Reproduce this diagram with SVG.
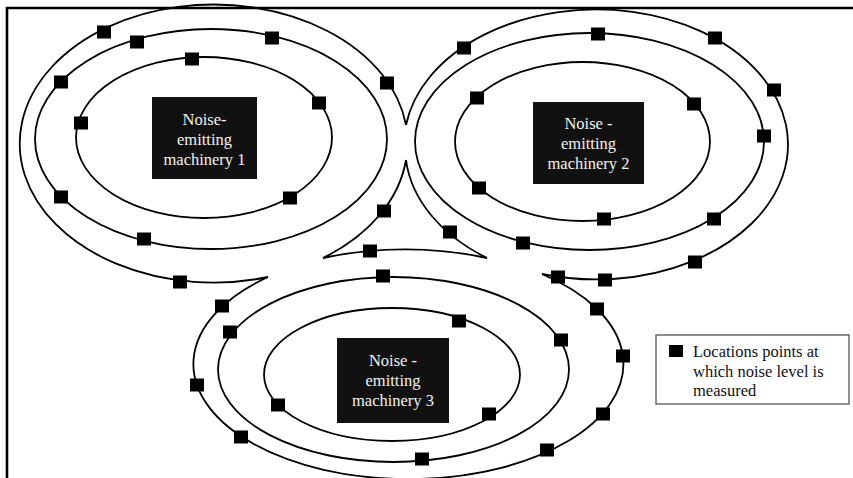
<svg xmlns="http://www.w3.org/2000/svg" width="853" height="478" viewBox="0 0 853 478">
<style>
.ring{fill:none;stroke:#000;stroke-width:1.8}
.frame{fill:none;stroke:#000;stroke-width:2.6}
.box{fill:#111}
.lbl{font-family:"Liberation Serif","Times New Roman",serif;font-size:16.5px;fill:#f2f2f2;text-anchor:middle}
.leg{font-family:"Liberation Serif","Times New Roman",serif;font-size:16.5px;fill:#111}
.pt{fill:#000}
</style>
<defs>
<rect id="sq" x="-7" y="-6.5" width="14" height="13"/>
</defs>
<rect x="0" y="0" width="853" height="478" fill="#fff"/>
<g id="frame">
<path class="frame" d="M7,478 V8 H853"/>
</g>
<g id="connectors">
<!-- machinery 1 rings -->
<ellipse class="ring" cx="204" cy="137.5" rx="128" ry="80.5"/>
<ellipse class="ring" cx="211" cy="139" rx="176" ry="110"/>
<path class="ring" d="M406,125 A194,139 0 1 0 268,277"/>
<path class="ring" d="M406,160 A194,139 0 0 1 323,258"/>
<!-- machinery 2 rings -->
<ellipse class="ring" cx="582.5" cy="141.5" rx="127.5" ry="79.5"/>
<ellipse class="ring" cx="589.5" cy="141.5" rx="174.5" ry="108.5"/>
<path class="ring" d="M406,125 A192,135 0 1 1 542,274"/>
<path class="ring" d="M406,160 A192,135 0 0 0 487,258"/>
<!-- machinery 3 rings -->
<ellipse class="ring" cx="392" cy="374.5" rx="128" ry="66.5"/>
<ellipse class="ring" cx="393.5" cy="369.5" rx="175.5" ry="92.5"/>
<path class="ring" d="M268,277 A215,115 0 1 0 542,274"/>
<path class="ring" d="M323,258 A215,115 0 0 1 487,258"/>
</g>
<g id="points" class="pt">
<use href="#sq" x="104" y="32"/>
<use href="#sq" x="387" y="83"/>
<use href="#sq" x="384" y="211"/>
<use href="#sq" x="180" y="282"/>
<use href="#sq" x="137" y="42"/>
<use href="#sq" x="272" y="38"/>
<use href="#sq" x="61" y="82"/>
<use href="#sq" x="61" y="197"/>
<use href="#sq" x="144" y="239"/>
<use href="#sq" x="192" y="59"/>
<use href="#sq" x="319" y="103"/>
<use href="#sq" x="81" y="123"/>
<use href="#sq" x="290" y="198"/>
<use href="#sq" x="370" y="251"/>
<use href="#sq" x="450" y="232"/>
<use href="#sq" x="464" y="48"/>
<use href="#sq" x="715" y="38"/>
<use href="#sq" x="774" y="90"/>
<use href="#sq" x="695" y="262"/>
<use href="#sq" x="605" y="280"/>
<use href="#sq" x="558" y="277"/>
<use href="#sq" x="598" y="34"/>
<use href="#sq" x="764" y="136"/>
<use href="#sq" x="714" y="219"/>
<use href="#sq" x="523" y="243"/>
<use href="#sq" x="477" y="98"/>
<use href="#sq" x="694" y="104"/>
<use href="#sq" x="479" y="188"/>
<use href="#sq" x="604" y="219"/>
<use href="#sq" x="222" y="306"/>
<use href="#sq" x="197" y="385"/>
<use href="#sq" x="241" y="437"/>
<use href="#sq" x="547" y="450"/>
<use href="#sq" x="603" y="414"/>
<use href="#sq" x="623" y="356"/>
<use href="#sq" x="597" y="309"/>
<use href="#sq" x="383" y="276"/>
<use href="#sq" x="230" y="332"/>
<use href="#sq" x="561" y="340"/>
<use href="#sq" x="422" y="459"/>
<use href="#sq" x="459" y="321"/>
<use href="#sq" x="278" y="405"/>
<use href="#sq" x="489" y="414"/>
</g>
<g id="machinery1">
<rect class="box" x="152" y="97" width="105" height="82"/>
<text class="lbl" x="204.5" y="125">Noise-</text>
<text class="lbl" x="204.5" y="145">emitting</text>
<text class="lbl" x="204.5" y="165">machinery 1</text>
</g>
<g id="machinery2">
<rect class="box" x="533" y="102" width="111" height="82"/>
<text class="lbl" x="588.5" y="129">Noise -</text>
<text class="lbl" x="588.5" y="149">emitting</text>
<text class="lbl" x="588.5" y="169">machinery 2</text>
</g>
<g id="machinery3">
<rect class="box" x="337" y="338" width="112" height="85"/>
<text class="lbl" x="393" y="366">Noise -</text>
<text class="lbl" x="393" y="386">emitting</text>
<text class="lbl" x="393" y="406">machinery 3</text>
</g>
<g id="legend">
<rect x="656" y="335" width="193" height="69" fill="#fff" stroke="#555" stroke-width="1.3"/>
<rect x="669" y="345" width="14" height="12" fill="#000"/>
<text class="leg" x="693" y="357">Locations points at</text>
<text class="leg" x="693" y="377">which noise level is</text>
<text class="leg" x="693" y="396">measured</text>
</g>
</svg>
